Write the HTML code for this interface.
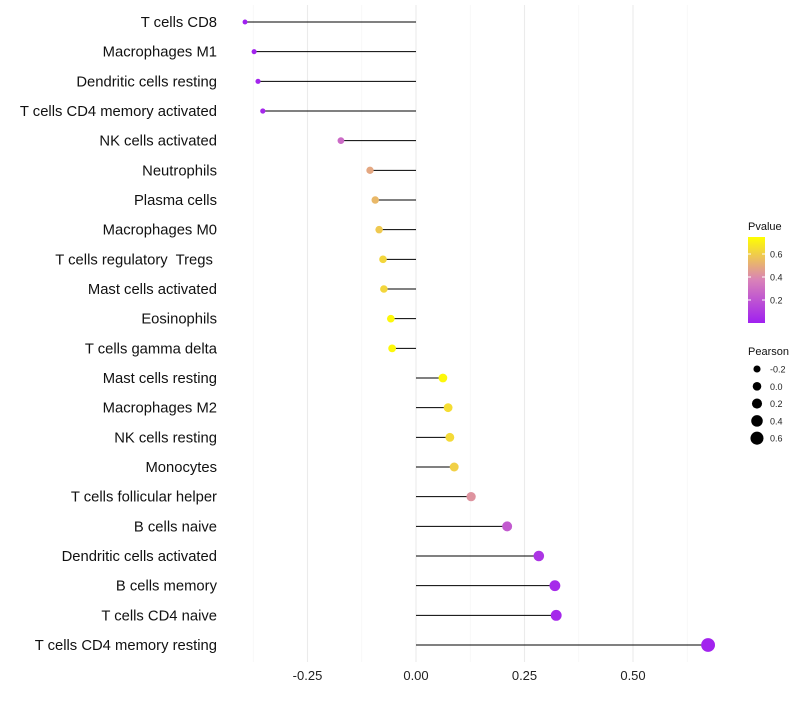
<!DOCTYPE html>
<html><head><meta charset="utf-8"><style>body{margin:0;background:#fff}svg{font-family:"Liberation Sans",sans-serif}text{white-space:pre}</style></head>
<body>
<svg id="c" width="800" height="700"></svg>
<script>
const categories=["T cells CD8","Macrophages M1","Dendritic cells resting","T cells CD4 memory activated","NK cells activated","Neutrophils","Plasma cells","Macrophages M0","T cells regulatory  Tregs ","Mast cells activated","Eosinophils","T cells gamma delta","Mast cells resting","Macrophages M2","NK cells resting","Monocytes","T cells follicular helper","B cells naive","Dendritic cells activated","B cells memory","T cells CD4 naive","T cells CD4 memory resting"];
const pearson=[-0.394,-0.373,-0.364,-0.353,-0.173,-0.106,-0.094,-0.085,-0.076,-0.074,-0.058,-0.055,0.062,0.074,0.078,0.088,0.127,0.210,0.283,0.320,0.323,0.673];
const pvalue=[0.0,0.01,0.02,0.03,0.28,0.48,0.53,0.58,0.62,0.62,0.72,0.72,0.72,0.64,0.63,0.6,0.42,0.22,0.08,0.04,0.03,0.01];
const xTicks=[-0.25,0,0.25,0.5];
const xTickLabels=["-0.25","0.00","0.25","0.50"];
const minorTicks=[-0.375,-0.125,0.125,0.375,0.625];
const legendPearson=[-0.2,0,0.2,0.4,0.6];
const legendP=[0.6,0.4,0.2];
const NS="http://www.w3.org/2000/svg",svg=document.getElementById('c');
function X(v){return 416+v*434;}
function Y(i){return 22+i*29.667;}
function R(v){return 4.1+v*4.2;}
function col(p){const t=Math.max(0,Math.min(1,p/0.74));const s=[[160,32,240],[217,130,184],[255,255,0]];let a,b,u;if(t<0.5){a=s[0];b=s[1];u=t/0.5}else{a=s[1];b=s[2];u=(t-0.5)/0.5}return`rgb(${a.map((c,k)=>Math.round(c+(b[k]-c)*u)).join(',')})`;}
function el(tag,at,txt){const e=document.createElementNS(NS,tag);for(const k in at)e.setAttribute(k,at[k]);if(txt!==undefined)e.textContent=txt;svg.appendChild(e);return e;}
minorTicks.forEach(v=>{const e=el('line',{x1:X(v),x2:X(v),y1:5,y2:662,stroke:'#f4f4f4','stroke-width':0.6});});
xTicks.forEach((v,i)=>{const e=el('line',{x1:X(v),x2:X(v),y1:5,y2:662,stroke:'#ebebeb','stroke-width':1.1});
const t=el('text',{x:X(v),y:680,'font-size':13,'text-anchor':'middle',fill:'#222'},xTickLabels[i]);});
categories.forEach((c,i)=>{const y=Y(i);
const t=el('text',{x:217,y:y+5,'font-size':14.8,'text-anchor':'end',fill:'#111'},c);
const l=el('line',{x1:X(0),x2:X(pearson[i]),y1:y,y2:y,stroke:'#000','stroke-width':1});
const d=el('circle',{cx:X(pearson[i]),cy:y,r:R(pearson[i]),fill:col(pvalue[i])});});
let t=el('text',{x:748,y:230,'font-size':11,fill:'#111'},'Pvalue');
const defs=el('defs',{});const g=document.createElementNS(NS,'linearGradient');g.setAttribute('id','gr');g.setAttribute('x1','0');g.setAttribute('y1','1');g.setAttribute('x2','0');g.setAttribute('y2','0');defs.appendChild(g);
[[0,'#a020f0'],[0.5,'#d982b8'],[1,'#ffff00']].forEach(s=>{const st=document.createElementNS(NS,'stop');st.setAttribute('offset',s[0]);st.setAttribute('stop-color',s[1]);g.appendChild(st);});
let cb=el('rect',{x:748,y:237,width:17,height:86,fill:'url(#gr)'});
legendP.forEach(p=>{const y=323-p*115;el('line',{x1:748,x2:751,y1:y,y2:y,stroke:'#fff'});el('line',{x1:762,x2:765,y1:y,y2:y,stroke:'#fff'});
const e=el('text',{x:770,y:y+3.5,'font-size':9,fill:'#222'},p.toFixed(1));});
t=el('text',{x:748,y:355,'font-size':11,fill:'#111'},'Pearson');
legendPearson.forEach((v,i)=>{const y=369+i*17.3;const c=el('circle',{cx:757,cy:y,r:4.3+v*3.7,fill:'#000'});
const e=el('text',{x:770,y:y+3.5,'font-size':9,fill:'#222'},v.toFixed(1));});
</script>
</body></html>
